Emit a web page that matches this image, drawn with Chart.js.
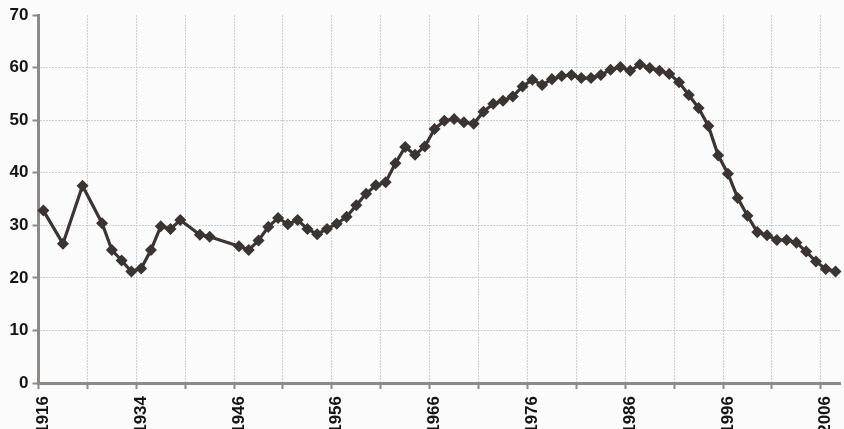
<!DOCTYPE html>
<html>
<head>
<meta charset="utf-8">
<script src="https://cdn.jsdelivr.net/npm/chart.js@4/dist/chart.umd.min.js"></script>
<style>
  html, body { margin: 0; padding: 0; width: 844px; height: 429px; overflow: hidden; background: #fbfbfb; }
  #wrap { width: 847px; height: 429px; position: relative; }
</style>
</head>
<body>
<div id="wrap"><canvas id="c"></canvas></div>
<script>
const years = [
  '1916','1917','1919','1920','1922','1924','1926','1928','1930','1932',
  '1934','1935','1936','1937','1938','1939','1940','1941','1943','1945',
  '1946','1947','1948','1949','1950','1951','1952','1953','1954','1955',
  '1956','1957','1958','1959','1960','1961','1962','1963','1964','1965',
  '1966','1967','1968','1969','1970','1971','1972','1973','1974','1975',
  '1976','1977','1978','1979','1980','1981','1982','1983','1984','1985',
  '1986','1987','1988','1989','1990','1991','1992','1993','1994','1995',
  '1996','1997','1998','1999','2000','2001','2002','2003','2004','2005',
  '2006','2007'
];
const values = [
  32.8, null, 26.5, null, 37.5, null, 30.4, 25.3, 23.3, 21.2,
  21.8, 25.3, 29.8, 29.3, 31.0, null, 28.2, 27.8, null, null,
  26.0, 25.3, 27.1, 29.7, 31.4, 30.2, 31.0, 29.3, 28.3, 29.3,
  30.3, 31.6, 33.8, 36.0, 37.6, 38.2, 41.8, 44.9, 43.4, 45.0,
  48.3, 49.9, 50.2, 49.6, 49.3, 51.6, 53.1, 53.7, 54.5, 56.4,
  57.7, 56.7, 57.8, 58.4, 58.6, 58.0, 58.0, 58.6, 59.6, 60.1,
  59.4, 60.6, 59.9, 59.4, 58.8, 57.2, 54.8, 52.3, 48.9, 43.3,
  39.8, 35.2, 31.8, 28.7, 28.1, 27.2, 27.2, 26.7, 25.0, 23.1,
  21.7, 21.2
];
const yMin = 0, yMax = 70, yStep = 10;

const AXIS = '#8d8986';
const GRID = '#cdcdcd';
const LINE = '#3a3533';
const TXT = '#141414';
const FONT = "'Liberation Sans', Arial, sans-serif";

new Chart(document.getElementById('c'), {
  type: 'line',
  data: {
    labels: years,
    datasets: [{
      data: values,
      borderColor: LINE,
      backgroundColor: LINE,
      borderWidth: 3.2,
      pointStyle: 'rectRot',
      pointRadius: 4.6,
      pointBorderWidth: 2,
      pointBackgroundColor: LINE,
      pointBorderColor: LINE,
      spanGaps: true,
      tension: 0,
      clip: false
    }]
  },
  options: {
    responsive: true,
    maintainAspectRatio: false,
    devicePixelRatio: 1,
    animation: false,
    layout: { padding: { top: 15, right: 0, left: 0, bottom: 0 } },
    plugins: { legend: { display: false }, tooltip: { enabled: false } },
    scales: {
      x: {
        type: 'category',
        offset: true,
        afterFit: (s) => { s.height = 46; s.paddingLeft = 0; s.paddingRight = 0; },
        grid: {
          offset: true,
          color: (ctx) => (ctx.index > 0 && ctx.index % 5 === 0) ? GRID : 'rgba(0,0,0,0)',
          tickColor: (ctx) => (ctx.index % 5 === 0) ? AXIS : 'rgba(0,0,0,0)',
          tickLength: 6,
          tickWidth: 2,
          lineWidth: 1
        },
        border: { color: AXIS, width: 3, dash: [2, 1] },
        ticks: {
          autoSkip: false,
          minRotation: 90,
          maxRotation: 90,
          padding: 7,
          color: TXT,
          font: { family: FONT, size: 17, weight: 'bold' },
          callback: function(v, i) { return i % 10 === 0 ? this.getLabelForValue(v) : ''; }
        }
      },
      y: {
        min: yMin,
        max: yMax,
        afterFit: (s) => { s.width = 38.5; },
        grid: {
          color: (ctx) => (ctx.tick && ctx.tick.value > 0 && ctx.tick.value < 70) ? GRID : 'rgba(0,0,0,0)',
          tickColor: AXIS,
          tickLength: 6,
          tickWidth: 2,
          lineWidth: 1
        },
        border: { color: AXIS, width: 3, dash: [2, 1] },
        ticks: {
          stepSize: yStep,
          padding: 4,
          color: TXT,
          font: { family: FONT, size: 17, weight: 'bold' }
        }
      }
    }
  }
});
</script>
</body>
</html>
